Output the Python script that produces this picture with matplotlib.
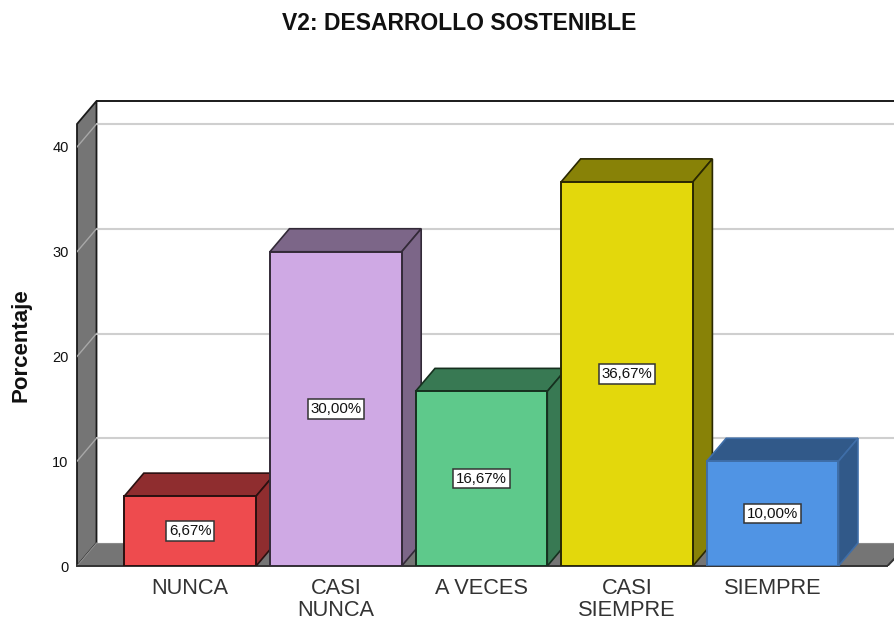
import matplotlib
matplotlib.use('Agg')
import matplotlib.pyplot as plt
from matplotlib.patches import Polygon

plt.rcParams['font.family'] = ['Liberation Sans', 'DejaVu Sans']

categories = ['NUNCA', 'CASI\nNUNCA', 'A VECES', 'CASI\nSIEMPRE', 'SIEMPRE']
values = [6.67, 30.00, 16.67, 36.67, 10.00]
labels = ['6,67%', '30,00%', '16,67%', '36,67%', '10,00%']
front_colors = ['#ee4b4e', '#cfa9e4', '#5ec98b', '#e3d80c', '#5094e4']
side_colors = ['#8f2d2f', '#7c6688', '#387953', '#888207', '#315989']
edge_colors = ['#2a1010', '#332a38', '#16301f', '#2a2802', '#3f6ea8']
yticks = [0, 10, 20, 30, 40]

W, H = 894, 621
# pixel layout of the plot
left, right, bottom, top = 77, 894, 566, 101
px_per_unit = 10.475
px_per_cat = 145.6
first_center = 190.2
bar_w = 0.905
dx = 19.5 / px_per_cat
dy = 23 / px_per_unit

fig = plt.figure(figsize=(W / 100, H / 100), dpi=100)
ax = fig.add_axes([left / W, 1 - bottom / H, (right - left) / W, (bottom - top) / H])
x0 = (left - first_center) / px_per_cat
x1 = (right - first_center) / px_per_cat
y1 = (bottom - top) / px_per_unit
ax.set_xlim(x0, x1)
ax.set_ylim(0, y1)
for s in ax.spines.values():
    s.set_visible(False)

wall = '#757575'
dark = '#1a1a1a'
grid = '#cfcfcf'

# left wall and floor
ax.add_patch(Polygon([(x0, 0), (x0 + dx, dy), (x0 + dx, y1), (x0, y1 - dy)], fc=wall, ec=dark, lw=1.3, zorder=1, clip_on=False))
ax.add_patch(Polygon([(x0, 0), (x0 + dx, dy), (x1 + dx, dy), (x1 - 0.045, 0)], fc=wall, ec='none', zorder=1, clip_on=False))
ax.plot([x0, x1 - 0.045], [0, 0], color='#333333', lw=1.4, zorder=2, clip_on=False)
ax.plot([x1 - 0.045, x1], [0, dy * 0.3], color='#333333', lw=1.4, zorder=2)
ax.plot([x0 + dx, x1], [dy, dy], color='#8a8a8a', lw=0.8, zorder=2)
ax.plot([x0 + dx, x1], [y1, y1], color=dark, lw=1.4, zorder=2, clip_on=False)

# grid on the walls
for t in yticks[1:]:
    ax.plot([x0 + dx, x1], [t + dy, t + dy], color=grid, lw=1.5, zorder=1.5)
    ax.plot([x0, x0 + dx], [t, t + dy], color='#a8a8a8', lw=1.0, zorder=1.5)
ax.plot([x0, x0 + dx], [0, dy], color='#949494', lw=0.7, zorder=1.5)

# bars, left to right so each covers the side of the one before
for i, v in enumerate(values):
    a = i - bar_w / 2
    b = i + bar_w / 2
    z = 3 + i
    ax.add_patch(Polygon([(a, v), (a + dx, v + dy), (b + dx, v + dy), (b, v)], fc=side_colors[i], ec=edge_colors[i], lw=1.2, zorder=z))
    ax.add_patch(Polygon([(b, 0), (b + dx, dy), (b + dx, v + dy), (b, v)], fc=side_colors[i], ec=edge_colors[i], lw=1.2, zorder=z))
    ax.add_patch(Polygon([(a, 0), (b, 0), (b, v), (a, v)], fc=front_colors[i], ec=edge_colors[i], lw=1.4, zorder=z + 0.1))
    ax.text(i, v / 2, labels[i], ha='center', va='center', fontsize=10.8, color='#111111', zorder=z + 0.2,
            bbox=dict(boxstyle='square,pad=0.18', fc='white', ec='#333333', lw=1.1))

ax.set_xticks(range(len(categories)))
ax.set_xticklabels(categories, fontsize=15.7, color='#333333', linespacing=1.05)
ax.set_yticks(yticks)
ax.set_yticklabels([str(t) for t in yticks], fontsize=10.5, color='#111111')
ax.tick_params(axis='both', length=0)
ax.tick_params(axis='x', pad=9)
ax.tick_params(axis='y', pad=6)

fig.text(459 / W, 1 - 24 / H, 'V2: DESARROLLO SOSTENIBLE', ha='center', va='center', fontsize=16.5, fontweight='bold', color='#111111')
fig.text(21 / W, 1 - 345 / H, 'Porcentaje', ha='center', va='center', rotation=90, fontsize=16, fontweight='bold', color='#111111')

fig.savefig('out.png', dpi=100)
